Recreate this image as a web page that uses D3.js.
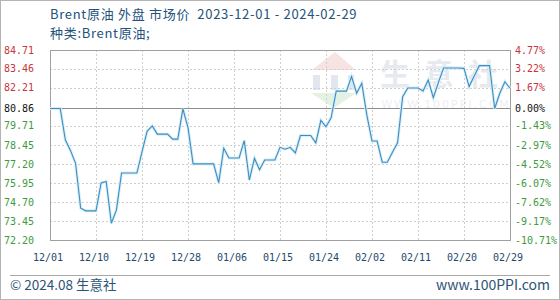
<!DOCTYPE html>
<html>
<head>
<meta charset="utf-8">
<script src="https://cdn.jsdelivr.net/npm/d3@7"></script>
<style>
body { margin: 0; background: #fff; }
text { white-space: pre; }
</style>
</head>
<body>
<div id="chart"></div>
<script>
// Brent 原油 daily price (weekends carry the last value)
const decValues = [80.86, 80.86, 80.86, 78.80, 78.10, 77.25, 74.29, 74.12, 74.12, 74.12,
    75.96, 76.05, 73.30, 74.18, 76.61, 76.61, 76.61, 76.61, 78.00, 79.36,
    79.71, 79.17, 79.17, 79.17, 78.84, 78.84, 80.83, 79.60, 77.21, 77.21, 77.21];
const janValues = [77.21, 77.21, 75.98, 78.24, 77.60, 77.60, 77.60, 78.74, 76.15, 77.58,
    76.83, 77.47, 77.47, 77.47, 78.30, 78.18, 78.30, 77.93, 79.08, 79.08,
    79.08, 78.60, 80.08, 79.65, 80.25, 82.00, 82.00, 82.00, 82.96, 81.86, 82.52];
const febValues = [80.41, 78.72, 78.72, 77.32, 77.32, 77.98, 78.60, 81.64, 82.21, 82.21,
    82.21, 82.01, 82.73, 81.57, 82.58, 83.52, 83.52, 83.52, 83.52, 83.50,
    82.30, 83.00, 83.68, 83.68, 83.68, 80.86, 81.86, 82.62, 82.19];

const startDate = "2023-12-01";
const endDate = "2024-02-29";
const baseValue = 80.86;
const yTicks = [84.71, 83.46, 82.21, 80.86, 79.71, 78.45, 77.20, 75.95, 74.70, 73.45, 72.20];
const pctLabels = ["4.77%", "3.22%", "1.67%", "0.00%", "-1.43%", "-2.97%", "-4.52%",
    "-6.07%", "-7.62%", "-9.17%", "-10.71%"];
const xTickLabels = ["12/01", "12/10", "12/19", "12/28", "01/06", "01/15", "01/24",
    "02/02", "02/11", "02/20", "02/29"];

const width = 560, height = 300;
const plotLeft = 50, plotRight = 510, plotTop = 50, plotBottom = 240;

const parse = d3.timeParse("%Y-%m-%d");
const t0 = parse(startDate), t1 = parse(endDate);
const values = decValues.concat(janValues, febValues);
const data = values.map((v, i) => ({ date: d3.timeDay.offset(t0, i), value: v }));

const x = d3.scaleTime().domain([t0, t1]).range([plotLeft, plotRight]);
const y = d3.scaleLinear().domain([72.20, 84.71]).range([plotBottom, plotTop]);
const xTicks = xTickLabels.map((s, i) => d3.timeDay.offset(t0, i * 9));

const svg = d3.select("#chart").append("svg")
    .attr("width", width)
    .attr("height", height)
    .style("font-family", "'DejaVu Sans Mono', monospace");

svg.append("rect")
    .attr("x", 0.5).attr("y", 0.5)
    .attr("width", width - 1).attr("height", height - 1)
    .attr("fill", "#fff")
    .attr("stroke", "#b4b4b4");

// title
const titleColor = "#23527c";
svg.append("text")
    .attr("x", plotLeft).attr("y", 19)
    .attr("fill", titleColor)
    .style("font-family", "'Noto Sans CJK SC', sans-serif")
    .style("font-size", "13px")
    .style("letter-spacing", "0.7px")
    .text("Brent原油 外盘 市场价  2023-12-01 - 2024-02-29");
svg.append("text")
    .attr("x", plotLeft).attr("y", 38)
    .attr("fill", titleColor)
    .style("font-family", "'Noto Sans CJK SC', sans-serif")
    .style("font-size", "13px")
    .style("letter-spacing", "0.7px")
    .text("种类:Brent原油;");

// watermark
const wm = svg.append("g").attr("opacity", 0.55);
wm.append("path")
    .attr("d", "M312,70 L335,52 L356,70 Z")
    .attr("fill", "#f2cfcb");
[[313, 7], [331, 7], [348, 6]].forEach(b => {
    wm.append("rect").attr("x", b[0]).attr("y", 75).attr("width", b[1]).attr("height", 15)
        .attr("fill", "#c9d3e6");
});
wm.append("path")
    .attr("d", "M311,93 L356,93 L334,108 Z")
    .attr("fill", "#cde8cd");
wm.append("text")
    .attr("x", 446).attr("y", 85)
    .attr("text-anchor", "middle")
    .attr("fill", "#d3d9e2")
    .style("font-family", "'Noto Sans CJK SC', sans-serif")
    .style("font-size", "30px")
    .style("font-weight", "bold")
    .style("letter-spacing", "14px")
    .text("生意社");
wm.append("text")
    .attr("x", 446).attr("y", 108)
    .attr("text-anchor", "middle")
    .attr("fill", "#dde2e8")
    .style("font-family", "'DejaVu Sans', sans-serif")
    .style("font-size", "11px")
    .style("letter-spacing", "2px")
    .text("WWW.100PPI.COM");

// grid
svg.append("g")
    .selectAll("line")
    .data(yTicks.filter(v => v !== baseValue))
    .join("line")
    .attr("x1", plotLeft).attr("x2", plotRight)
    .attr("y1", d => Math.round(y(d)) + 0.5)
    .attr("y2", d => Math.round(y(d)) + 0.5)
    .attr("stroke", "#cfcfcf")
    .attr("stroke-dasharray", "2,2");

svg.append("g")
    .selectAll("line")
    .data(xTicks.slice(1, -1))
    .join("line")
    .attr("x1", d => Math.round(x(d)) + 0.5)
    .attr("x2", d => Math.round(x(d)) + 0.5)
    .attr("y1", plotTop).attr("y2", plotBottom)
    .attr("stroke", "#cfcfcf")
    .attr("stroke-dasharray", "2,2");

svg.append("line")
    .attr("x1", plotLeft).attr("x2", plotRight)
    .attr("y1", Math.round(y(baseValue)) + 0.5)
    .attr("y2", Math.round(y(baseValue)) + 0.5)
    .attr("stroke", "#8c8c8c");

svg.append("rect")
    .attr("x", plotLeft + 0.5).attr("y", plotTop + 0.5)
    .attr("width", plotRight - plotLeft).attr("height", plotBottom - plotTop)
    .attr("fill", "none")
    .attr("stroke", "#a0a0a0");

// line
const line = d3.line()
    .x(d => x(d.date))
    .y(d => y(d.value));

svg.append("path")
    .datum(data)
    .attr("fill", "none")
    .attr("stroke", "#d6eef8")
    .attr("stroke-width", 3)
    .attr("d", line);

svg.append("path")
    .datum(data)
    .attr("fill", "none")
    .attr("stroke", "#3f8dc0")
    .attr("stroke-width", 1.1)
    .attr("d", line);

// axes labels
const labelColor = v => v > baseValue ? "#c9343c" : (v < baseValue ? "#3d9a3d" : "#111");

svg.append("g")
    .selectAll("text")
    .data(yTicks)
    .join("text")
    .attr("x", 34)
    .attr("y", d => y(d) + 3.5)
    .attr("text-anchor", "end")
    .attr("fill", d => labelColor(d))
    .style("font-size", "10px")
    .text(d => d.toFixed(2));

svg.append("g")
    .selectAll("text")
    .data(yTicks)
    .join("text")
    .attr("x", 515)
    .attr("y", d => y(d) + 3.5)
    .attr("fill", d => labelColor(d))
    .style("font-size", "10px")
    .text((d, i) => pctLabels[i]);

svg.append("g")
    .selectAll("text")
    .data(xTicks)
    .join("text")
    .attr("x", d => x(d) - 2)
    .attr("y", 261)
    .attr("text-anchor", "middle")
    .attr("fill", "#1f4a6e")
    .style("font-size", "10px")
    .text((d, i) => xTickLabels[i]);

// footer
svg.append("line")
    .attr("x1", 10).attr("x2", 550)
    .attr("y1", 275.5).attr("y2", 275.5)
    .attr("stroke", "#a8a8a8");

svg.append("text")
    .attr("x", 10).attr("y", 290)
    .attr("fill", "#2d5476")
    .style("font-family", "'Noto Sans CJK SC', sans-serif")
    .style("font-size", "13.5px")
    .text("© 2024.08 生意社");

svg.append("text")
    .attr("x", 550).attr("y", 290)
    .attr("text-anchor", "end")
    .attr("fill", "#2d5476")
    .style("font-family", "'Noto Sans CJK SC', sans-serif")
    .style("font-size", "14px")
    .text("www.100PPI.com");
</script>
</body>
</html>
